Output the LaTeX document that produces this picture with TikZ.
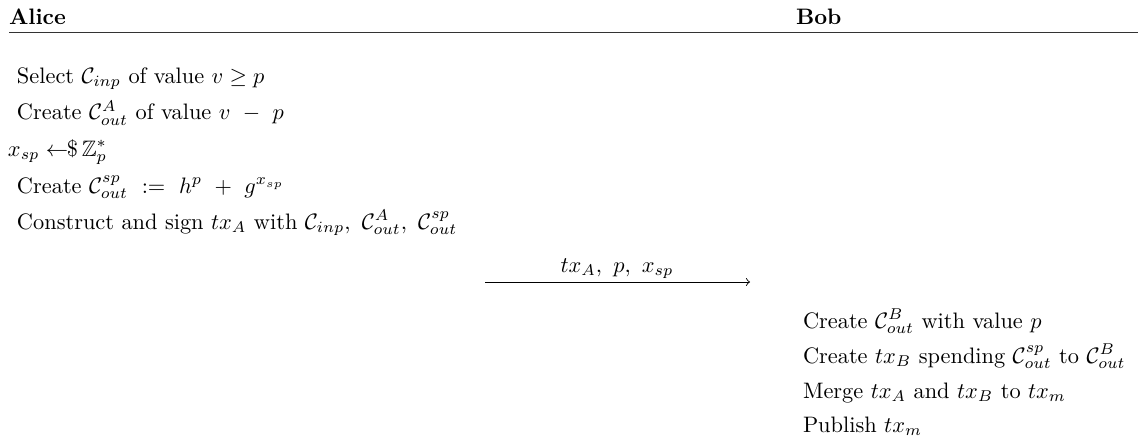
\documentclass[tikz,border=0pt]{standalone}
\usepackage{amsmath,amssymb}
\begin{document}
\begin{tikzpicture}[x=0.4472pt,y=-0.4472pt,
  txt/.style={anchor=base west,inner sep=0pt,outer sep=0pt},
  hdr/.style={txt,font=\bfseries},
  msg/.style={->,line width=0.4pt}]
\useasboundingbox (0,0) rectangle (1138,439);
\node[hdr] (alice) at (9,24) {Alice};
\node[hdr] (bob) at (796,24) {Bob};
\coordinate (rl) at (9,32);
\coordinate (rr) at (1138,32);
\draw[line width=0.4pt,black!80] (rl) -- (rr);
\node[txt] (a1) at (17,83) {Select $\mathcal{C}_{inp}$ of value $v \geq p$};
\node[txt] (a2) at (17,119.5) {Create $\mathcal{C}^{A}_{out}$ of value $v\ -\ p$};
\node[txt] (a3) at (8,156) {$x_{sp} \leftarrow\!\!\$\,\mathbb{Z}_p^*$};
\node[txt] (a4) at (17,193) {Create $\mathcal{C}^{sp}_{out}\ :=\ h^p\ +\ g^{x_{sp}}$};
\node[txt] (a5) at (17,229) {Construct and sign $tx_A$ with $\mathcal{C}_{inp},\ \mathcal{C}^{A}_{out},\ \mathcal{C}^{sp}_{out}$};
\coordinate (ms) at (485,282);
\coordinate (me) at (750,282);
\draw[msg] (ms) -- (me);
\node[anchor=base,inner sep=0pt] (ml) at (617,272) {$tx_A,\ p,\ x_{sp}$};
\node[txt] (b1) at (803,328) {Create $\mathcal{C}^{B}_{out}$ with value $p$};
\node[txt] (b2) at (803,363) {Create $tx_B$ spending $\mathcal{C}^{sp}_{out}$ to $\mathcal{C}^{B}_{out}$};
\node[txt] (b3) at (803,398) {Merge $tx_A$ and $tx_B$ to $tx_m$};
\node[txt] (b4) at (803,432) {Publish $tx_m$};
\end{tikzpicture}
\end{document}
